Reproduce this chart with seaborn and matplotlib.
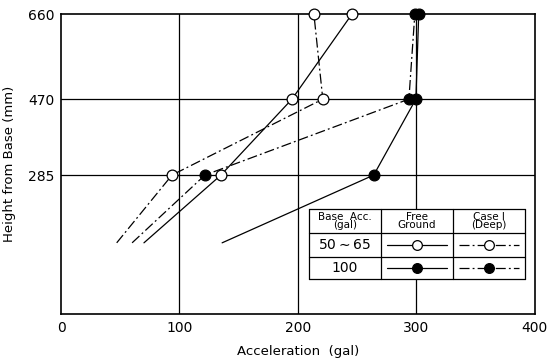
import numpy as np
import pandas as pd
import seaborn as sns
import matplotlib.pyplot as plt
from matplotlib.lines import Line2D

# heights (mm); first entry is the unmarked lower end of each trace
heights = [146, 285, 470, 660]
free_50 = [70, 135, 195, 245.6]
case_50 = [47, 93.7, 221, 213.5]
free_100 = [136, 264, 299.6, 302]
case_100 = [60, 121.5, 293.7, 298.7]

y_ticks = [285, 470, 660]
x_ticks = [0, 100, 200, 300, 400]

# the original height axis is not linear: map heights to drawn positions
h_levels = [0, 285, 470, 660]
h_pos = [0, 139, 215, 300]


def fwd(v):
    return np.interp(v, h_levels, h_pos)


def inv(v):
    return np.interp(v, h_pos, h_levels)


sns.set_style("white")
plt.rcParams['font.family'] = ['DejaVu Sans']
plt.rcParams['text.color'] = 'black'
plt.rcParams['axes.labelcolor'] = 'black'
plt.rcParams['xtick.color'] = 'black'
plt.rcParams['ytick.color'] = 'black'

dashdot = (0, (8, 2.5, 1.5, 2.5))
series = [
    (free_50, '-', 'white'),
    (case_50, dashdot, 'white'),
    (free_100, '-', 'black'),
    (case_100, dashdot, 'black'),
]

fig = plt.figure(figsize=(5.6, 3.63), dpi=100)
ax = fig.add_axes([0.109, 0.135, 0.846, 0.826])
ax.set_yscale('function', functions=(fwd, inv))

for xs, ls, fc in series:
    df = pd.DataFrame({'acc': xs, 'h': heights})
    sns.lineplot(data=df, x='acc', y='h', sort=False, estimator=None,
                 color='black', lw=0.9, ax=ax, linestyle=ls)
    sns.scatterplot(data=df.iloc[1:], x='acc', y='h', color=fc,
                    edgecolor='black', linewidth=0.9, s=60, ax=ax, zorder=5,
                    clip_on=False)

ax.set_xlim(0, 400)
ax.set_ylim(0, 660)
ax.set_xticks(x_ticks)
ax.set_yticks(y_ticks)
ax.set_yticks([], minor=True)
ax.tick_params(length=0, labelsize=10, pad=5)
for v in x_ticks[1:-1]:
    ax.axvline(v, color='black', lw=0.9, zorder=1)
for v in y_ticks[:-1]:
    ax.axhline(v, color='black', lw=0.9, zorder=1)
for s in ax.spines.values():
    s.set_color('black')
    s.set_linewidth(1.2)
ax.set_xlabel('Acceleration  (gal)', fontsize=9.5, labelpad=7)
ax.set_ylabel('Height from Base (mm)', fontsize=9.5, labelpad=8)

# legend table (axes fractions)
x0, x1, x2, x3 = 0.523, 0.675, 0.827, 0.979
y0, y1, y2, y3 = 0.35, 0.27, 0.19, 0.117
tr = ax.transAxes
for xv in (x0, x1, x2, x3):
    ax.add_line(Line2D([xv, xv], [y3, y0], transform=tr, color='black', lw=0.9, zorder=6))
for yv in (y0, y1, y2, y3):
    ax.add_line(Line2D([x0, x3], [yv, yv], transform=tr, color='black', lw=0.9, zorder=6))
ax.add_patch(plt.Rectangle((x0, y3), x3 - x0, y0 - y3, transform=tr,
                           facecolor='white', edgecolor='none', zorder=5.5))
hy = (y0 + y1) / 2
ax.text((x0 + x1) / 2, hy, 'Base  Acc.\n(gal)', transform=tr, ha='center', va='center',
        fontsize=7.5, linespacing=0.8, zorder=7)
ax.text((x1 + x2) / 2, hy, 'Free\nGround', transform=tr, ha='center', va='center',
        fontsize=7.5, linespacing=0.8, zorder=7)
ax.text((x2 + x3) / 2, hy, 'Case I\n(Deep)', transform=tr, ha='center', va='center',
        fontsize=7.5, linespacing=0.8, zorder=7)
rows = [('50$\\sim$65', 'white', (y1 + y2) / 2), ('100', 'black', (y2 + y3) / 2)]
for lab, fc, ry in rows:
    ax.text((x0 + x1) / 2, ry, lab, transform=tr, ha='center', va='center',
            fontsize=10, zorder=7)
    for (cx0, cx1), ls in (((x1, x2), '-'), ((x2, x3), dashdot)):
        pad = 0.012
        ax.add_line(Line2D([cx0 + pad, cx1 - pad], [ry, ry], transform=tr, color='black',
                           lw=0.9, linestyle=ls, zorder=7))
        ax.add_line(Line2D([(cx0 + cx1) / 2], [ry], transform=tr, marker='o', ms=7,
                           mfc=fc, mec='black', mew=0.9, linestyle='none', zorder=8))

fig.savefig('out.png', dpi=100)
